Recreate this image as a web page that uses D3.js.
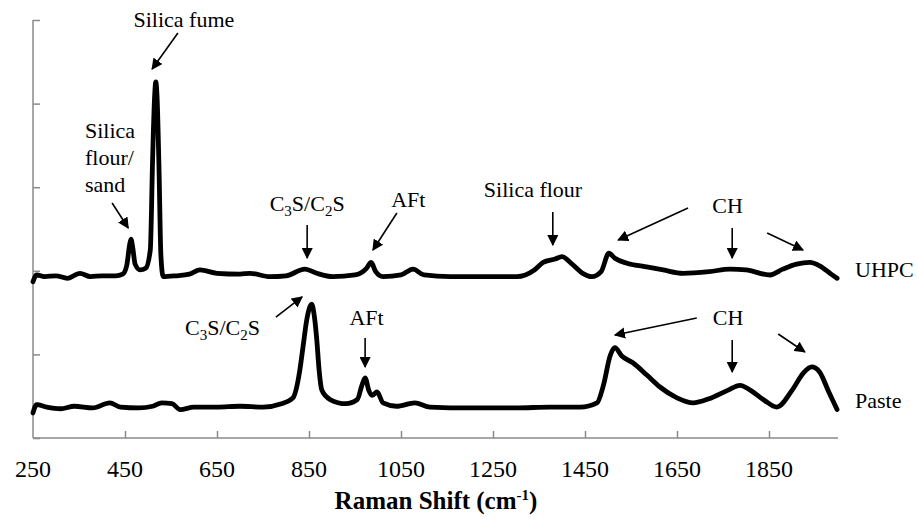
<!DOCTYPE html>
<html>
<head>
<meta charset="utf-8">
<script src="https://cdn.jsdelivr.net/npm/d3@7"></script>
</head>
<body style="margin:0">
<svg id="chart" width="917" height="519"></svg>
<script>
// ---- Data (Raman shift in cm-1, intensity in arbitrary offset units) ----
const uhpcShift = [250,258,275,300,325,352,375,400,430,445,454,460,463,467,472,483,495,505,510,514,517,520,524,528,533,560,590,613,650,700,722,765,800,841,867,902,950,975,985,995,1011,1050,1076,1100,1157,1200,1250,1302,1340,1359,1385,1400,1420,1445,1465,1485,1502,1515,1541,1580,1620,1663,1720,1765,1800,1852,1880,1910,1939,1960,1985,1998];
const uhpcIntensity = [1.87,1.95,1.93,1.94,1.91,1.97,1.93,1.94,1.94,1.96,2.07,2.31,2.38,2.27,2.08,2.01,2.03,2.25,3.33,4.04,4.26,4.04,3.21,2.19,1.93,1.94,1.96,2.01,1.97,1.96,1.97,1.93,1.94,2.02,1.97,1.93,1.95,2.03,2.10,1.99,1.93,1.95,2.02,1.95,1.93,1.93,1.93,1.93,2.01,2.10,2.14,2.17,2.09,1.97,1.93,1.99,2.21,2.15,2.09,2.05,2.01,1.97,1.99,2.02,2.01,1.95,2.02,2.08,2.10,2.06,1.96,1.91];

const pasteShift = [250,258,280,310,340,380,417,440,480,510,530,552,570,600,650,700,750,790,815,830,837,845,856,862,867,872,878,896,930,955,965,972,980,987,998,1011,1040,1080,1113,1200,1300,1374,1440,1476,1490,1505,1515,1530,1554,1585,1613,1650,1685,1720,1760,1787,1810,1840,1867,1900,1925,1943,1960,1980,1998];
const pasteIntensity = [0.30,0.40,0.37,0.35,0.38,0.36,0.42,0.37,0.36,0.38,0.42,0.41,0.34,0.37,0.37,0.38,0.37,0.41,0.48,0.81,1.09,1.41,1.60,1.44,1.17,0.81,0.57,0.46,0.41,0.46,0.63,0.72,0.57,0.51,0.55,0.42,0.38,0.42,0.37,0.36,0.36,0.37,0.37,0.42,0.63,0.99,1.08,0.98,0.90,0.75,0.61,0.48,0.42,0.47,0.57,0.63,0.57,0.45,0.37,0.57,0.78,0.85,0.79,0.55,0.34];

const xTicks = [250,450,650,850,1050,1250,1450,1650,1850];
const yTicks = [0,1,2,3,4,5];
const seriesNames = ["UHPC","Paste"];

// annotations: text, anchor (data coords), arrows [x1,y1,x2,y2] in data coords
const annoText = ["Silica fume","Silica|flour/|sand","C3S/C2S","AFt","Silica flour","CH","CH","C3S/C2S","AFt"];
const annoX = [578,363,846,1066,1337,1760,1761,662,975];
const annoY = [4.916,3.589,2.715,2.763,2.883,2.691,1.352,1.232,1.352];
const annoAnchor = ["middle","start","middle","middle","middle","middle","middle","middle","middle"];
const arrows = [
  [565,4.844,509,4.414],
  [422,2.811,457,2.512],
  [846,2.548,846,2.153],
  [1041,2.691,989,2.249],
  [1380,2.703,1380,2.309],
  [1674,2.751,1522,2.368],
  [1770,2.512,1770,2.153],
  [1846,2.452,1924,2.249],
  [1693,1.435,1515,1.232],
  [1770,1.172,1770,0.789],
  [1870,1.244,1928,1.029],
  [778,1.447,835,1.687],
  [972,1.196,972,0.849]
];
const seriesLabelX = [2037,2037];
const seriesLabelY = [1.926,0.359];

// ---- Layout ----
const FONT = "Liberation Serif";
const svg = d3.select("#chart");
const x = d3.scaleLinear().domain([250,2000]).range([33,838]);
const y = d3.scaleLinear().domain([0,5]).range([438,20]);
const axisColor = "#8a8a8a";

// Y axis (inner ticks)
const gy = svg.append("g").attr("transform","translate(33,0)")
  .call(d3.axisRight(y).tickValues(yTicks).tickSize(7).tickFormat(""));
gy.select(".domain").remove();
gy.selectAll("line").attr("stroke",axisColor).attr("stroke-width",1.5);
svg.append("line").attr("x1",33).attr("x2",33).attr("y1",y(5)).attr("y2",y(0))
  .attr("stroke",axisColor).attr("stroke-width",1.5);

// X axis (inner ticks)
const gx = svg.append("g").attr("transform","translate(0,438)")
  .call(d3.axisTop(x).tickValues(xTicks.slice(1)).tickSize(7).tickFormat(""));
gx.select(".domain").remove();
gx.selectAll("line").attr("stroke",axisColor).attr("stroke-width",1.5);
svg.append("line").attr("x1",33).attr("x2",838).attr("y1",438).attr("y2",438)
  .attr("stroke",axisColor).attr("stroke-width",1.5);

// X tick labels
svg.append("g").selectAll("text").data(xTicks).join("text")
  .attr("x",d=>x(d)).attr("y",477).attr("text-anchor","middle")
  .style("font-family",FONT).style("font-size","24px").text(d=>d);

// X axis title
const title = svg.append("text").attr("x",436).attr("y",509).attr("text-anchor","middle")
  .style("font-family",FONT).style("font-size","25px").style("font-weight","bold");
title.append("tspan").text("Raman Shift (cm");
title.append("tspan").attr("dy",-9).style("font-size","15px").text("-1");
title.append("tspan").attr("dy",9).text(")");

// Lines
const line = d3.line().x(d=>x(d[0])).y(d=>y(d[1])).curve(d3.curveMonotoneX);
const series = [d3.zip(uhpcShift,uhpcIntensity), d3.zip(pasteShift,pasteIntensity)];
svg.append("g").selectAll("path").data(series).join("path")
  .attr("d",line).attr("fill","none").attr("stroke","#000")
  .attr("stroke-width",4.8).attr("stroke-linejoin","round").attr("stroke-linecap","round");

// Series labels
svg.append("g").selectAll("text").data(seriesNames).join("text")
  .attr("x",(d,i)=>x(seriesLabelX[i])).attr("y",(d,i)=>y(seriesLabelY[i]))
  .style("font-family",FONT).style("font-size","22px").text(d=>d);

// Arrow marker
svg.append("defs").append("marker").attr("id","ah")
  .attr("viewBox","0 0 10 10").attr("refX",9).attr("refY",5)
  .attr("markerWidth",7).attr("markerHeight",7).attr("markerUnits","strokeWidth")
  .attr("orient","auto")
  .append("path").attr("d","M0,0 L10,5 L0,10 z").attr("fill","#000");

svg.append("g").selectAll("line").data(arrows).join("line")
  .attr("x1",d=>x(d[0])).attr("y1",d=>y(d[1])).attr("x2",d=>x(d[2])).attr("y2",d=>y(d[3]))
  .attr("stroke","#000").attr("stroke-width",1.6).attr("marker-end","url(#ah)");

// Annotation texts (digits rendered as subscripts)
annoText.forEach((s,i)=>{
  s.split("|").forEach((ln,j)=>{
    const t = svg.append("text").attr("x",x(annoX[i])).attr("y",y(annoY[i])+j*27)
      .attr("text-anchor",annoAnchor[i])
      .style("font-family",FONT).style("font-size","22px");
    let shift = 0;
    ln.split(/(\d)/).filter(p=>p.length).forEach(p=>{
      if(/^\d$/.test(p)){
        t.append("tspan").attr("dy",5-shift).style("font-size","15px").text(p);
        shift = 5;
      } else {
        t.append("tspan").attr("dy",-shift).text(p);
        shift = 0;
      }
    });
  });
});
</script>
</body>
</html>
